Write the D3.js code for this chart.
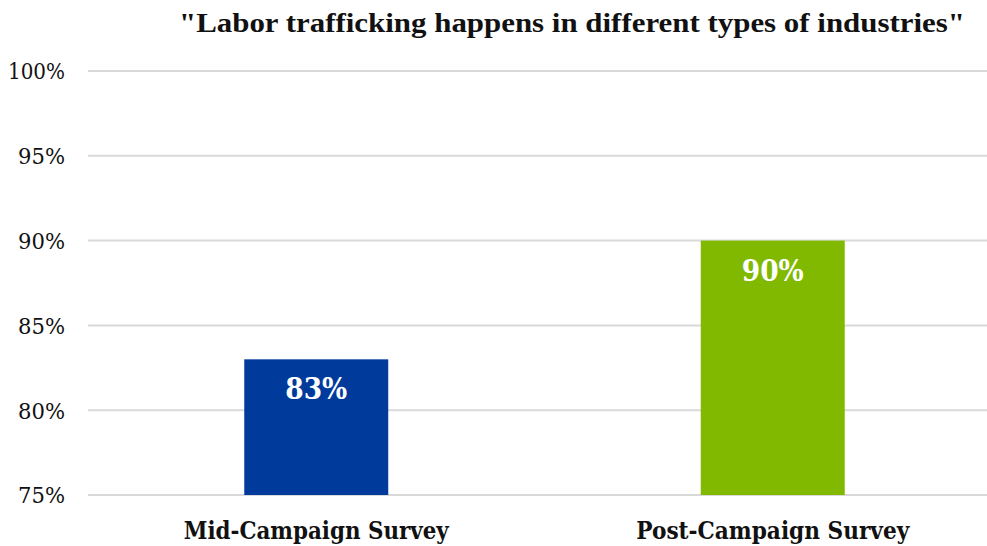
<!DOCTYPE html>
<html>
<head>
<meta charset="utf-8">
<script src="https://cdn.jsdelivr.net/npm/d3@7/dist/d3.min.js"></script>
<style>
  html, body { margin: 0; padding: 0; background: #ffffff; }
  svg { display: block; }
</style>
</head>
<body>
<svg id="chart" width="987" height="546"></svg>
<script>
// Survey results
const categories = ["Mid-Campaign Survey", "Post-Campaign Survey"];
const values = [83, 90];
const barColors = ["#003A9B", "#80B900"];
const yTicks = [75, 80, 85, 90, 95, 100];
const titleText = "\"Labor trafficking happens in different types of industries\"";

const svg = d3.select("#chart");
const W = 987, H = 546;
const serif = "'DejaVu Serif', 'Liberation Serif', serif";

const x = d3.scaleBand()
  .domain(categories)
  .range([88, 1001])
  .paddingInner(0.6846)
  .paddingOuter(0.3423);

const y = d3.scaleLinear()
  .domain([75, 100])
  .range([495, 71]);

// Horizontal gridlines
svg.append("g")
  .selectAll("line")
  .data(yTicks)
  .join("line")
  .attr("x1", 88)
  .attr("x2", W)
  .attr("y1", d => y(d))
  .attr("y2", d => y(d))
  .attr("stroke", "#d9d9d9")
  .attr("stroke-width", 2);

// Y axis labels
const yAxis = d3.axisLeft(y)
  .tickValues(yTicks)
  .tickFormat(d => d + "%")
  .tickSize(0)
  .tickPadding(0);

const yg = svg.append("g")
  .attr("transform", "translate(65,0)")
  .call(yAxis);
yg.select(".domain").remove();
yg.selectAll("text")
  .attr("font-family", serif)
  .attr("font-size", 22)
  .attr("fill", "#111")
  .attr("dy", "0.36em")
  .attr("textLength", d => d === 100 ? 57 : 47)
  .attr("lengthAdjust", "spacingAndGlyphs");

// Bars
svg.append("g")
  .selectAll("rect")
  .data(values)
  .join("rect")
  .attr("x", (d, i) => x(categories[i]))
  .attr("width", x.bandwidth())
  .attr("y", d => y(d))
  .attr("height", d => y(75) - y(d))
  .attr("fill", (d, i) => barColors[i]);

// Value labels inside bars
svg.append("g")
  .selectAll("text")
  .data(values)
  .join("text")
  .attr("x", (d, i) => x(categories[i]) + x.bandwidth() / 2)
  .attr("y", d => y(d) + 40)
  .attr("text-anchor", "middle")
  .attr("font-family", serif)
  .attr("font-weight", "bold")
  .attr("font-size", 29)
  .attr("fill", "#ffffff")
  .attr("textLength", 62)
  .attr("lengthAdjust", "spacingAndGlyphs")
  .text(d => d + "%");

// Category labels
svg.append("g")
  .selectAll("text")
  .data(categories)
  .join("text")
  .attr("x", d => x(d) + x.bandwidth() / 2)
  .attr("y", 539)
  .attr("text-anchor", "middle")
  .attr("font-family", serif)
  .attr("font-weight", "bold")
  .attr("font-size", 24)
  .attr("fill", "#111")
  .attr("textLength", (d, i) => i === 0 ? 265 : 273)
  .attr("lengthAdjust", "spacingAndGlyphs")
  .text(d => d);

// Title
svg.append("text")
  .attr("x", 572)
  .attr("y", 32)
  .attr("text-anchor", "middle")
  .attr("font-family", "'Liberation Serif', 'DejaVu Serif', serif")
  .attr("font-weight", "bold")
  .attr("font-size", 28)
  .attr("fill", "#111")
  .attr("textLength", 786)
  .attr("lengthAdjust", "spacingAndGlyphs")
  .text(titleText);
</script>
</body>
</html>
